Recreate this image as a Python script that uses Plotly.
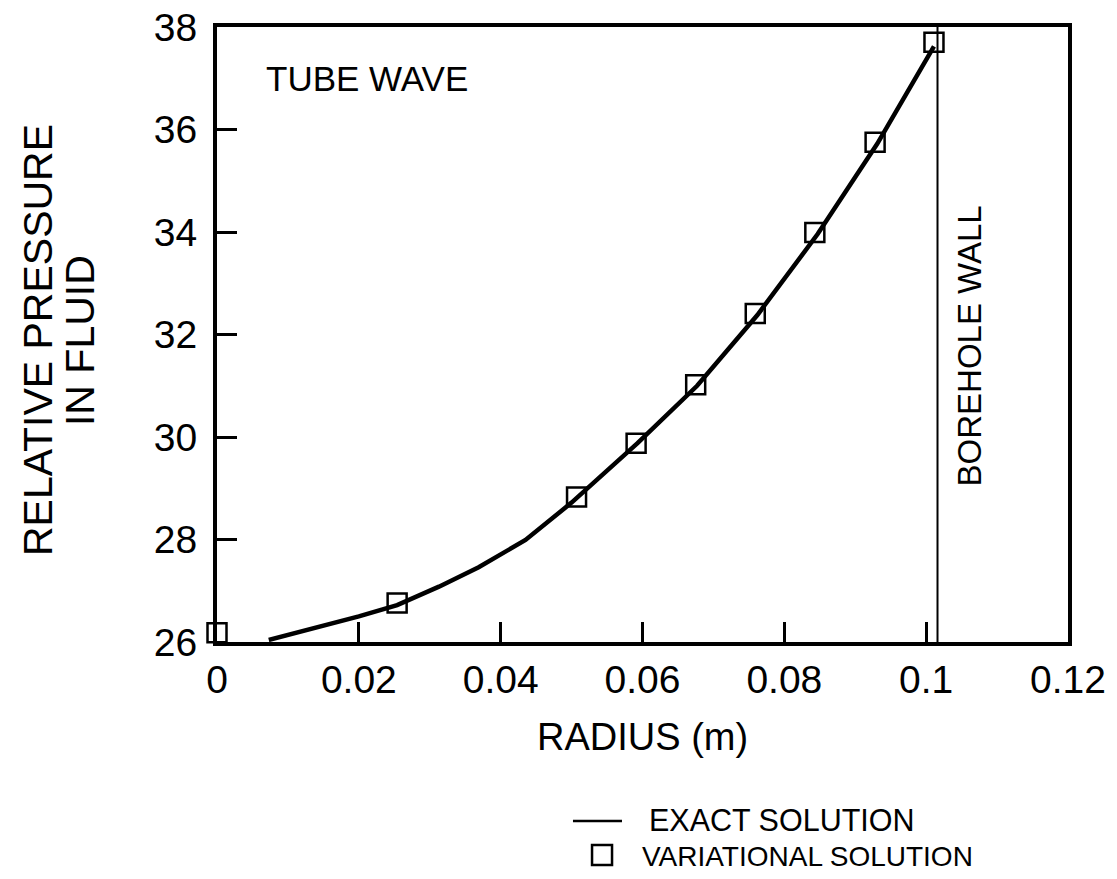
import plotly.graph_objects as go

# Exact solution (solid curve)
exact_r = [0.0073, 0.0148, 0.0200, 0.0254, 0.0313, 0.0369, 0.0435, 0.0500, 0.0508,
           0.0593, 0.0677, 0.0762, 0.0847, 0.0931, 0.1011]
exact_p = [26.04, 26.30, 26.50, 26.72, 27.08, 27.46, 27.99, 28.72, 28.82,
           29.88, 31.00, 32.38, 33.96, 35.72, 37.62]

# Variational solution (open squares)
var_r = [0.0, 0.0254, 0.0507, 0.0591, 0.0675, 0.0759, 0.0843, 0.0928, 0.1011]
var_p = [26.18, 26.76, 28.83, 29.88, 31.02, 32.41, 33.99, 35.75, 37.70]

# Borehole wall position
wall_r = 0.1016

x_ticks = [0, 0.02, 0.04, 0.06, 0.08, 0.1, 0.12]
x_ticklabels = ["0", "0.02", "0.04", "0.06", "0.08", "0.1", "0.12"]
y_ticks = [26, 28, 30, 32, 34, 36, 38]

FONT = "Liberation Sans, Arial, Helvetica, sans-serif"

fig = go.Figure()
fig.add_trace(go.Scatter(
    x=exact_r, y=exact_p, mode="lines", name="EXACT SOLUTION",
    line=dict(color="black", width=4.5), cliponaxis=False, showlegend=False))
fig.add_trace(go.Scatter(
    x=var_r, y=var_p, mode="markers", name="VARIATIONAL SOLUTION",
    marker=dict(symbol="square-open", size=19, color="black",
                line=dict(color="black", width=2.5)),
    cliponaxis=False, showlegend=False))
fig.add_trace(go.Scatter(
    x=[wall_r, wall_r], y=[26, 38], mode="lines", showlegend=False,
    line=dict(color="black", width=2)))

fig.update_layout(
    width=1117, height=879,
    margin=dict(l=217, r=49, t=27, b=237, autoexpand=False),
    paper_bgcolor="white", plot_bgcolor="white",
    font=dict(family=FONT, color="black", size=37),
    showlegend=False,
    xaxis=dict(range=[0, 0.12], tickvals=x_ticks, ticktext=x_ticklabels,
               ticks="inside", ticklen=20, tickwidth=3, tickcolor="black",
               showline=True, linewidth=4, linecolor="black", mirror=True,
               showgrid=False, zeroline=False, automargin=False,
               ticklabeloverflow="allow",
               tickfont=dict(size=39, family=FONT)),
    yaxis=dict(range=[26, 38], tickvals=y_ticks,
               ticks="inside", ticklen=20, tickwidth=3, tickcolor="black",
               showline=True, linewidth=4, linecolor="black", mirror=True,
               showgrid=False, zeroline=False, automargin=False,
               ticklabelstandoff=8, ticklabeloverflow="allow",
               tickfont=dict(size=39, family=FONT)),
)

annos = [
    dict(text="TUBE WAVE", x=0.1763, y=0.917, xref="paper", yref="paper",
         showarrow=False, font=dict(size=35, family=FONT), xanchor="center", yanchor="middle"),
    dict(text="BOREHOLE WALL", x=0.884, y=0.481, xref="paper", yref="paper",
         showarrow=False, textangle=-90, font=dict(size=33, family=FONT),
         xanchor="center", yanchor="middle"),
    dict(text="RADIUS (m)", x=0.5, y=-0.1545, xref="paper", yref="paper",
         showarrow=False, font=dict(size=38, family=FONT), xanchor="center", yanchor="middle"),
    dict(text="RELATIVE PRESSURE", x=-0.2103, y=0.491, xref="paper", yref="paper",
         showarrow=False, textangle=-90, font=dict(size=41, family=FONT),
         xanchor="center", yanchor="middle"),
    dict(text="IN FLUID", x=-0.161, y=0.491, xref="paper", yref="paper",
         showarrow=False, textangle=-90, font=dict(size=41, family=FONT),
         xanchor="center", yanchor="middle"),
    # legend texts
    dict(text="EXACT SOLUTION", x=0.5053, y=-0.2894, xref="paper", yref="paper",
         showarrow=False, font=dict(size=30.5, family=FONT), xanchor="left", yanchor="middle"),
    dict(text="VARIATIONAL SOLUTION", x=0.4971, y=-0.348, xref="paper", yref="paper",
         showarrow=False, font=dict(size=28, family=FONT), xanchor="left", yanchor="middle"),
]
shapes = [
    # legend glyphs
    dict(type="line", xref="paper", yref="paper", x0=0.4183, x1=0.4759,
         y0=-0.2911, y1=-0.2911, line=dict(color="black", width=2.5)),
    dict(type="rect", xref="paper", yref="paper", x0=0.4407, x1=0.4642,
         y0=-0.3626, y1=-0.3301, line=dict(color="black", width=2.5)),
]
fig.update_layout(annotations=annos, shapes=shapes)

fig.write_html("out.html", config={"displayModeBar": False},
               post_script="document.body.style.margin='0';document.body.style.overflow='hidden';")
